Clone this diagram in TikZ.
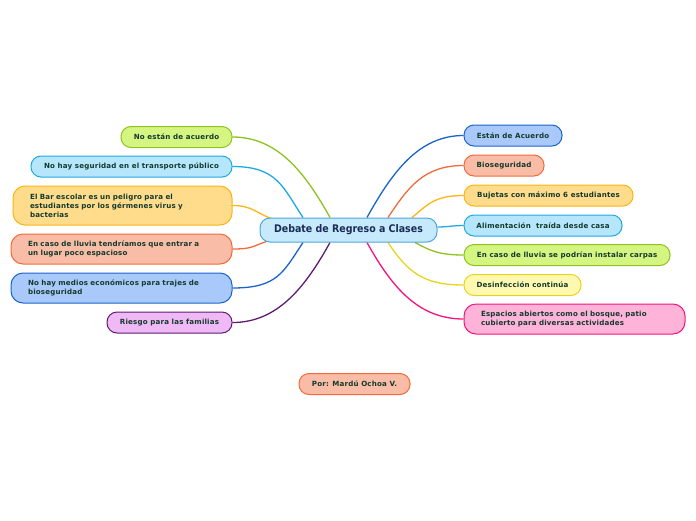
\documentclass[tikz,border=0pt]{standalone}
\usepackage{fontspec}
\setmainfont{DejaVu Sans}[LetterSpace=2.5]
\newfontfamily\rootfont{DejaVu Sans Condensed}
\usetikzlibrary{calc,backgrounds}
\definecolor{txt}{HTML}{143A2C}
\definecolor{roottxt}{HTML}{1A2B55}
\definecolor{gF}{HTML}{D5F583}\definecolor{gD}{HTML}{8DC21F}
\definecolor{cF}{HTML}{B5E6FC}\definecolor{cD}{HTML}{1FA9E3}
\definecolor{oF}{HTML}{FFDB8C}\definecolor{oD}{HTML}{FDB515}
\definecolor{sF}{HTML}{F9BCA6}\definecolor{sD}{HTML}{F36A3B}
\definecolor{bF}{HTML}{A9C9FA}\definecolor{bD}{HTML}{1964CC}
\definecolor{pF}{HTML}{EFB9F6}\definecolor{pD}{HTML}{5E1C70}
\definecolor{yF}{HTML}{FFF8B0}\definecolor{yD}{HTML}{E8D41C}
\definecolor{kF}{HTML}{FFB3D9}\definecolor{kD}{HTML}{F3147C}
\definecolor{rF}{HTML}{C6EAFB}\definecolor{rD}{HTML}{4DA6DA}
\tikzset{
  box/.style={rounded corners=10pt, line width=1pt, inner sep=0pt, text=txt,
    font=\fontsize{7.1}{9}\selectfont\bfseries, minimum height=21pt},
  multi/.style={box, align=left, inner xsep=17pt, rounded corners=12pt},
  link/.style={line width=1.3pt},
}
\begin{document}
\begin{tikzpicture}[x=1pt,y=-1pt]
\useasboundingbox (0,0) rectangle (696,520);
% root
\node[box, fill=rF, draw=rD, minimum width=177pt, minimum height=24pt, text=roottxt,
  font=\rootfont\fontsize{10.5}{12}\selectfont\bfseries] (root) at (348.5,230) {Debate de Regreso a Clases};
% left
\node[box, fill=gF, draw=gD, minimum width=111pt] (l1) at (176.5,137) {No están de acuerdo};
\node[box, fill=cF, draw=cD, minimum width=201pt] (l2) at (131.5,166.5) {No hay seguridad en el transporte público};
\node[multi, fill=oF, draw=oD, text width=185pt, minimum height=39pt] (l3) at (122.5,205.5)
  {El Bar escolar es un peligro para el\\estudiantes por los gérmenes virus y\\bacterias};
\node[multi, fill=sF, draw=sD, text width=187pt, minimum height=30pt] (l4) at (121.5,249)
  {En caso de lluvia tendríamos que entrar a\\un lugar poco espacioso};
\node[multi, fill=bF, draw=bD, text width=187pt, minimum height=30pt] (l5) at (121.5,288)
  {No hay medios económicos para trajes de\\bioseguridad};
\node[box, fill=pF, draw=pD, minimum width=125pt] (l6) at (169.5,322.5) {Riesgo para las familias};
% right
\node[box, fill=bF, draw=bD, minimum width=98pt] (r1) at (513,135.5) {Están de Acuerdo};
\node[box, fill=sF, draw=sD, minimum width=80pt] (r2) at (504,165.5) {Bioseguridad};
\node[box, fill=oF, draw=oD, minimum width=169pt] (r3) at (548.5,195.5) {Bujetas con máximo 6 estudiantes};
\node[box, fill=cF, draw=cD, minimum width=158pt] (r4) at (543,225.5) {Alimentación\ \ traída desde casa};
\node[box, fill=gF, draw=gD, minimum width=206pt] (r5) at (567,255) {En caso de lluvia se podrían instalar carpas};
\node[box, fill=yF, draw=yD, minimum width=117pt] (r6) at (522.5,285) {Desinfección continúa};
\node[multi, fill=kF, draw=kD, text width=187pt, minimum height=30pt] (r7) at (574.5,319)
  {Espacios abiertos como el bosque, patio\\cubierto para diversas actividades};
% author
\node[box, fill=sF, draw=sD, minimum width=111pt] (by) at (354.5,384) {Por: Mardú Ochoa V.};
% connectors
\begin{scope}[on background layer]
\draw[link, gD] (l1.east) .. controls +(45,0) and +(-25,-45) .. ($(root.north)+(-18.5,0)$);
\draw[link, cD] (l2.east) .. controls +(45,0) and +(-20,-30) .. ($(root.north)+(-45.5,0)$);
\draw[link, oD] (l3.east) .. controls +(20,0) and +(-15,-5) .. ($(root.north west)+(12,1)$);
\draw[link, sD] (l4.east) .. controls +(20,0) and +(-15,5) .. ($(root.south west)+(7,-1)$);
\draw[link, bD] (l5.east) .. controls +(45,0) and +(-20,30) .. ($(root.south)+(-45.5,0)$);
\draw[link, pD] (l6.east) .. controls +(45,0) and +(-25,45) .. ($(root.south)+(-18.5,0)$);
\draw[link, bD] ($(root.north)+(18.5,0)$) .. controls +(25,-45) and +(-45,0) .. (r1.west);
\draw[link, sD] ($(root.north)+(39.5,0)$) .. controls +(20,-30) and +(-40,0) .. (r2.west);
\draw[link, oD] ($(root.north)+(63.5,0)$) .. controls +(15,-12) and +(-30,0) .. (r3.west);
\draw[link, cD] ($(root.east)+(0,-3)$) .. controls +(10,0) and +(-10,0) .. (r4.west);
\draw[link, gD] ($(root.south)+(66.5,0)$) .. controls +(15,8) and +(-25,0) .. (r5.west);
\draw[link, yD] ($(root.south)+(39.5,0)$) .. controls +(20,30) and +(-40,0) .. (r6.west);
\draw[link, kD] ($(root.south)+(18.5,0)$) .. controls +(25,45) and +(-45,0) .. (r7.west);
\end{scope}
\end{tikzpicture}
\end{document}
